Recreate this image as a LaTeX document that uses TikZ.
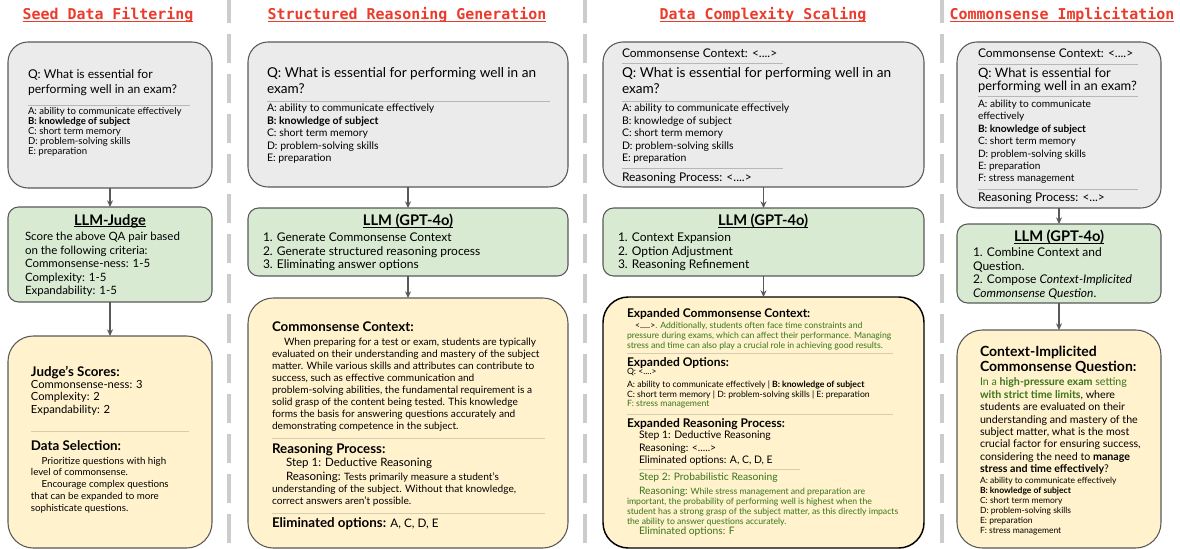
\documentclass[tikz,border=0pt]{standalone}
\usepackage{fontspec}
\setmainfont{Lato}
\newfontfamily\stagefont{DejaVu Sans Mono}
\usetikzlibrary{arrows.meta, positioning, fit}

\definecolor{titlered}{HTML}{EA3B2C}
\definecolor{boxgray}{HTML}{EBEBEB}
\definecolor{boxgreen}{HTML}{D9EAD3}
\definecolor{boxyellow}{HTML}{FFF2CC}
\definecolor{edgegray}{HTML}{595959}
\definecolor{txtgreen}{HTML}{38761D}
\definecolor{sepgray}{HTML}{CCCCCC}
\definecolor{rulegray}{HTML}{B7B7B7}
\definecolor{ruletan}{HTML}{D6CDB0}

\newcommand{\setfs}[2]{\fontsize{#1}{#2}\selectfont}
\newcommand{\ulbox}[2]{\setbox0\hbox{#2}\rlap{\rule[-#1]{\wd0}{0.7pt}}\box0}

\begin{document}
\begin{tikzpicture}[
    x=0.75pt, y=-0.75pt,
    every node/.style={inner sep=0pt, outer sep=0pt},
    qbox/.style={draw=edgegray, fill=boxgray, rounded corners=15pt, line width=0.8pt},
    llmbox/.style={draw=edgegray, fill=boxgreen, rounded corners=8pt, line width=0.8pt},
    outbox/.style={draw=edgegray, fill=boxyellow, rounded corners=19pt, line width=0.8pt},
    stage/.style={font=\stagefont\bfseries\setfs{11.2}{13}, text=titlered},
    txt/.style={anchor=north west, align=left},
    qline/.style={txt, font=\setfs{10.2}{12}},
    opts/.style={txt, font=\setfs{7.85}{9.4}},
    ctx/.style={txt, font=\setfs{9}{9.4}},
    llmhead/.style={font=\bfseries\setfs{11}{13}},
    llmlist/.style={txt, font=\setfs{9}{10.1}},
    head/.style={txt, font=\bfseries\setfs{10}{12}},
    small/.style={txt, font=\setfs{7.6}{9}},
    tiny/.style={txt, font=\setfs{6.5}{7.4}},
    arr/.style={-{Stealth[length=5pt,width=4.5pt]}, edgegray, line width=0.8pt},
    rule/.style={rulegray, line width=0.6pt},
    yrule/.style={ruletan, line width=0.7pt},
    sep/.style={sepgray, line width=3pt, dash pattern=on 21.75pt off 8.25pt},
  ]
  \useasboundingbox (0,0) rectangle (1180,549);

  % column separators
  \foreach \sx in {228.5, 584.5, 942}
    \draw[sep] (\sx,-6) -- (\sx,560);

  % stage titles
  \node[stage] (stage1) at (108,15) {\ulbox{2pt}{Seed Data Filtering}};
  \node[stage] (stage2) at (407,15) {\ulbox{2pt}{Structured Reasoning Generation}};
  \node[stage] (stage3) at (763,15) {\ulbox{2pt}{Data Complexity Scaling}};
  \node[stage] (stage4) at (1062,15) {\ulbox{2pt}{Commonsense Implicitation}};

  % ---------------- seed data filtering
  \node[qbox, fit={(8,42) (212,188)}] (seed) {};
  \node[llmbox, fit={(8,207) (212,302)}] (judge) {};
  \node[outbox, fit={(8,336) (212,548)}] (scores) {};
  \draw[arr] (seed.south) -- (judge.north);
  \draw[arr] (judge.south) -- (scores.north);

  \node[txt, font=\setfs{9.1}{11.25}] (seedq) at (28,69.5) {Q: What is essential for\\performing well in an exam?};
  \draw[rule] (28,105) -- (190,105);
  \node[txt, font=\setfs{7.2}{7.5}] (seedopt) at (28,107) {A: ability to communicate effectively\\\textbf{B: knowledge of subject}\\C: short term memory\\D: problem-solving skills\\E: preparation};

  \node[llmhead] (judgehead) at (110,221) {\ulbox{1.6pt}{LLM-Judge}};
  \node[txt, font=\setfs{8.6}{10.1}] (judgetxt) at (25,232.5) {Score the above QA pair based\\on the following criteria:\\Commonsense-ness: 1-5\\Complexity: 1-5\\Expandability: 1-5};

  \node[head] (scorehead) at (31,366) {Judge's Scores:};
  \node[txt, font=\setfs{8.4}{9.4}] (scorelist) at (31,380) {Commonsense-ness: 3\\Complexity: 2\\Expandability: 2};
  \draw[yrule] (31,431) -- (189,431);
  \node[head] (selhead) at (31,441) {Data Selection:};
  \node[txt, font=\setfs{7.3}{8.85}] (seltxt) at (31,457) {\hspace*{8pt}Prioritize questions with high\\level of commonsense.\\\hspace*{8pt}Encourage complex questions\\that can be expanded to more\\sophisticate questions.};

  % ---------------- structured reasoning generation
  \node[qbox, fit={(248,42) (568,187)}] (genin) {};
  \node[llmbox, fit={(248,208) (568,276)}] (genllm) {};
  \node[outbox, fit={(248,298) (568,548)}] (genout) {};
  \draw[arr] (genin.south) -- (genllm.north);
  \draw[arr] (genllm.south) -- (genout.north);

  \node[qline] (genq) at (267,67.5) {Q: What is essential for performing well in an\\exam?};
  \draw[rule] (267,101) -- (550,101);
  \node[opts] (genopt) at (267,104) {A: ability to communicate effectively\\\textbf{B: knowledge of subject}\\C: short term memory\\D: problem-solving skills\\E: preparation};

  \node[llmhead] (genhead) at (408,221) {\ulbox{1.6pt}{LLM (GPT-4o)}};
  \node[llmlist] (genlist) at (263,233) {1. Generate Commonsense Context\\2. Generate structured reasoning process\\3. Eliminating answer options};

  \node[head] (genctxhead) at (272,322) {Commonsense Context:};
  \node[small] (genctx) at (272,338) {\hspace*{9pt}When preparing for a test or exam, students are typically\\evaluated on their understanding and mastery of the subject\\matter. While various skills and attributes can contribute to\\success, such as effective communication and\\problem-solving abilities, the fundamental requirement is a\\solid grasp of the content being tested. This knowledge\\forms the basis for answering questions accurately and\\demonstrating competence in the subject.};
  \draw[yrule] (272,438) -- (545,438);
  \node[head] (genrphead) at (272,444) {Reasoning Process:};
  \node[txt, font=\setfs{8.65}{10}] (genstep) at (286,458.5) {Step 1: Deductive Reasoning};
  \node[small] (genreason) at (286,472.5) {{\setfs{8.65}{10}Reasoning:} Tests primarily measure a student's};
  \node[small] (genreason2) at (272,485) {understanding of the subject. Without that knowledge,\\correct answers aren't possible.};
  \draw[yrule] (272,513) -- (545,513);
  \node[head] (genelim) at (272,518) {Eliminated options: {\mdseries\setfs{8.8}{10}A, C, D, E}};

  % ---------------- data complexity scaling
  \node[qbox, fit={(603,42) (924,187)}] (scalein) {};
  \node[llmbox, fit={(603,208) (924,276)}] (scalellm) {};
  \node[outbox, draw=black, line width=1.1pt, fit={(603,297) (924,548)}] (scaleout) {};
  \draw[arr] (scalein.south) -- (scalellm.north);
  \draw[arr] (scalellm.south) -- (scaleout.north);

  \node[ctx] (scalectx) at (622,48.5) {Commonsense Context: <....>};
  \draw[rule] (622,63) -- (783,63);
  \node[qline] (scaleq) at (622,67.5) {Q: What is essential for performing well in an\\exam?};
  \draw[rule] (622,101) -- (783,101);
  \node[opts] (scaleopt) at (622,104) {A: ability to communicate effectively\\B: knowledge of subject\\C: short term memory\\D: problem-solving skills\\E: preparation};
  \draw[rule] (622,168) -- (783,168);
  \node[ctx] (scalerp) at (622,172.5) {Reasoning Process: <....>};

  \node[llmhead] (scalehead) at (763,221) {\ulbox{1.6pt}{LLM (GPT-4o)}};
  \node[llmlist] (scalelist) at (618,233) {1. Context Expansion\\2. Option Adjustment\\3. Reasoning Refinement};

  \node[head, font=\bfseries\setfs{9}{11}] (expctxhead) at (627,308.5) {Expanded Commonsense Context:};
  \node[tiny, text=txtgreen] (expctx) at (627,322) {\hspace*{6pt}\textcolor{black}{<.....>}. Additionally, students often face time constraints and\\pressure during exams, which can affect their performance. Managing\\stress and time can also play a crucial role in achieving good results.};
  \draw[yrule] (627,353) -- (893,353);
  \node[head, font=\bfseries\setfs{9}{11}] (expopthead) at (627,357.5) {Expanded Options:};
  \node[tiny] (expq) at (627,368) {Q: <....>};
  \node[tiny] (expopt) at (627,380.5) {A: ability to communicate effectively | \textbf{B: knowledge of subject}\\C: short term memory | D: problem-solving skills | E: preparation\\\textcolor{txtgreen}{F: stress management}};
  \draw[yrule] (627,414) -- (893,414);
  \node[head, font=\bfseries\setfs{9}{11}] (exprphead) at (627,418.5) {Expanded Reasoning Process:};
  \node[ctx, font=\setfs{7.8}{9.4}] (expstep1) at (639,431) {Step 1: Deductive Reasoning\\Reasoning: <.....>\\Eliminated options: A, C, D, E};
  \draw[yrule] (639,469) -- (800,469);
  \node[ctx, font=\setfs{7.7}{9.4}, text=txtgreen] (expstep2) at (639,473) {Step 2: Probabilistic Reasoning};
  \node[tiny, text=txtgreen] (expreason) at (639,487) {{\setfs{7.7}{9.4}Reasoning:} While stress management and preparation are};
  \node[tiny, text=txtgreen] (expreason2) at (627,498) {important, the probability of performing well is highest when the\\student has a strong grasp of the subject matter, as this directly impacts\\the ability to answer questions accurately.};
  \node[ctx, font=\setfs{7.7}{9.4}, text=txtgreen] (expelim) at (639,527) {Eliminated options: F};

  % ---------------- commonsense implicitation
  \node[qbox, fit={(957,42) (1161,208)}] (impin) {};
  \node[llmbox, fit={(957,224) (1161,303)}] (impllm) {};
  \node[outbox, fit={(957,330) (1161,548)}] (impout) {};
  \draw[arr] (impin.south) -- (impllm.north);
  \draw[arr] (impllm.south) -- (impout.north);

  \node[ctx] (impctx) at (978,48.5) {Commonsense Context: <....>};
  \draw[rule] (978,64) -- (1138,64);
  \node[txt, font=\setfs{9.7}{9.75}] (impq) at (978,68) {Q: What is essential for\\performing well in an exam?};
  \draw[rule] (978,96) -- (1138,96);
  \node[txt, font=\setfs{7.6}{9.3}] (impopt) at (978,100) {A: ability to communicate\\effectively\\\textbf{B: knowledge of subject}\\C: short term memory\\D: problem-solving skills\\E: preparation\\F: stress management};
  \draw[rule] (978,189) -- (1138,189);
  \node[ctx] (imprp) at (978,192.5) {Reasoning Process: <...>};

  \node[llmhead] (imphead) at (1059,237) {\ulbox{1.6pt}{LLM (GPT-4o)}};
  \node[llmlist, font=\setfs{9}{10.3}] (implist) at (973,247.5) {1. Combine Context and\\Question.\\2. Compose \textit{Context-Implicited}\\\textit{Commonsense Question}.};

  \node[txt, font=\bfseries\setfs{10.5}{11.25}] (imphead2) at (980,346) {Context-Implicited\\Commonsense Question:};
  \node[txt, font=\setfs{8}{9.3}] (impbody) at (980,378) {\textcolor{txtgreen}{In a \textbf{high-pressure exam} setting}\\\textcolor{txtgreen}{\textbf{with strict time limits}}, where\\students are evaluated on their\\understanding and mastery of the\\subject matter, what is the most\\crucial factor for ensuring success,\\considering the need to \textbf{manage}\\\textbf{stress and time effectively}?};
  \node[tiny, font=\setfs{6.4}{7.5}] (impopt2) at (980,477) {A: ability to communicate effectively\\\textbf{B: knowledge of subject}\\C: short term memory\\D: problem-solving skills\\E: preparation\\F: stress management};
\end{tikzpicture}
\end{document}
